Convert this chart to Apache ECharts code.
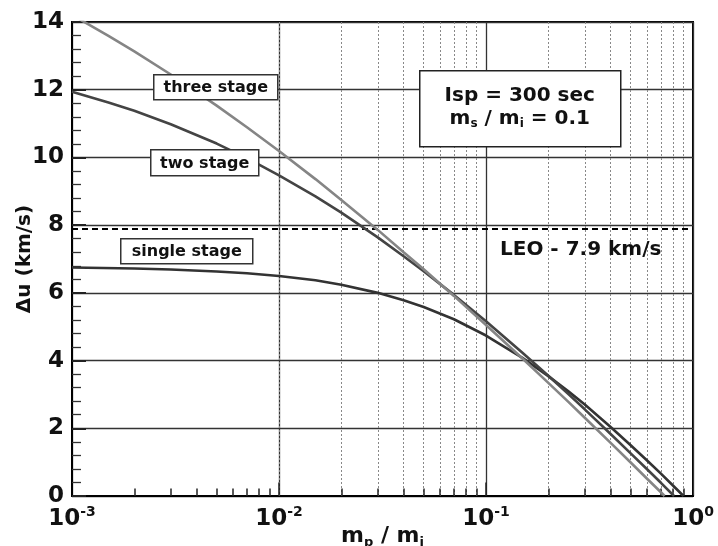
<!DOCTYPE html>
<html>
<head>
<meta charset="utf-8">
<script src="https://cdn.jsdelivr.net/npm/echarts@6/dist/echarts.min.js"></script>
<style>
  html, body { margin: 0; padding: 0; background: #fff; }
  #chart { width: 718px; height: 546px; }
</style>
</head>
<body>
<div id="chart"></div>
<script>
// payload ratio m_p / m_i
const ratioSingle = [0.001, 0.002, 0.003, 0.005, 0.007, 0.01, 0.015, 0.02, 0.03, 0.04, 0.05, 0.07, 0.1, 0.15, 0.2, 0.25, 0.3, 0.4, 0.5, 0.6, 0.7, 0.8, 0.9];
const duSingle = [6.75, 6.72, 6.69, 6.63, 6.58, 6.50, 6.37, 6.24, 6.00, 5.78, 5.58, 5.22, 4.74, 4.08, 3.54, 3.09, 2.70, 2.04, 1.50, 1.05, 0.66, 0.31, 0];

const ratioTwo = [0.001, 0.0015, 0.002, 0.003, 0.005, 0.007, 0.01, 0.015, 0.02, 0.03, 0.04, 0.05, 0.07, 0.1, 0.15, 0.2, 0.25, 0.3, 0.4, 0.5, 0.6, 0.7, 0.81];
const duTwo = [11.94, 11.62, 11.38, 10.98, 10.41, 9.98, 9.47, 8.85, 8.37, 7.64, 7.08, 6.64, 5.94, 5.16, 4.23, 3.55, 3.01, 2.56, 1.83, 1.26, 0.79, 0.39, 0];

const ratioThree = [0.001, 0.0015, 0.002, 0.003, 0.005, 0.007, 0.01, 0.015, 0.02, 0.03, 0.04, 0.05, 0.07, 0.1, 0.15, 0.2, 0.25, 0.3, 0.4, 0.5, 0.6, 0.7, 0.729];
const duThree = [14.21, 13.59, 13.13, 12.45, 11.53, 10.89, 10.19, 9.36, 8.74, 7.86, 7.20, 6.70, 5.91, 5.05, 4.06, 3.34, 2.78, 2.31, 1.57, 0.99, 0.51, 0.11, 0];

const minorX = [0.002, 0.003, 0.004, 0.005, 0.006, 0.007, 0.008, 0.009,
                0.02, 0.03, 0.04, 0.05, 0.06, 0.07, 0.08, 0.09,
                0.2, 0.3, 0.4, 0.5, 0.6, 0.7, 0.8, 0.9];
const leo = 7.9;

const font = '"DejaVu Sans", Verdana, sans-serif';
const pairs = (xs, ys) => xs.map((x, i) => [x, ys[i]]);

const chart = echarts.init(document.getElementById('chart'));

const gridLines = minorX.map(x => ({ xAxis: x }));
const minorTicks = minorX.map(x => [{ coord: [x, 0] }, { coord: [x, 0.22] }]);
const majorTicks = [0.01, 0.1].map(x => [{ coord: [x, 0] }, { coord: [x, 0.4] }]);

function boxLabel(text, x, y, w, h) {
  return {
    type: 'group', left: x, top: y,
    children: [
      { type: 'rect', z: 100, shape: { x: 0, y: 0, width: w, height: h },
        style: { fill: '#fff', stroke: '#333', lineWidth: 1.5 } },
      { type: 'text', z: 101, x: w / 2, y: h / 2 + 1,
        style: { text: text, font: 'bold 16px ' + font, fill: '#111',
                 align: 'center', verticalAlign: 'middle' } }
    ]
  };
}

chart.setOption({
  animation: false,
  grid: {
    left: 72, top: 22, right: 25, bottom: 50, containLabel: false, outerBoundsMode: 'none',
    show: true, borderColor: '#000', borderWidth: 2, backgroundColor: 'transparent'
  },
  xAxis: {
    type: 'log', min: 0.001, max: 1, logBase: 10,
    axisLine: { lineStyle: { color: '#000', width: 2 } },
    axisTick: { show: false },
    splitLine: { show: true, lineStyle: { color: '#333', width: 1.3 } },
    axisLabel: {
      margin: 9,
      formatter: v => '{b|10}{s|' + Math.round(Math.log10(v)) + '}',
      rich: {
        b: { fontFamily: font, fontWeight: 'bold', fontSize: 23, color: '#111' },
        s: { fontFamily: font, fontWeight: 'bold', fontSize: 14, color: '#111', padding: [0, 0, 14, 0] }
      }
    },
    name: '{a|m}{sub|p}{a| / m}{sub|i}',
    nameLocation: 'middle', nameGap: 28, nameMoveOverlap: false,
    nameTextStyle: {
      rich: {
        a: { fontFamily: font, fontWeight: 'bold', fontSize: 22, color: '#111' },
        sub: { fontFamily: font, fontWeight: 'bold', fontSize: 13, color: '#111', padding: [12, 0, 0, 0] }
      }
    }
  },
  yAxis: {
    type: 'value', min: 0, max: 14, interval: 2,
    axisLine: { lineStyle: { color: '#000', width: 2 } },
    axisTick: { show: true, inside: true, length: 14, lineStyle: { color: '#222', width: 2 } },
    minorTick: { show: true, splitNumber: 5, length: 9, lineStyle: { color: '#333', width: 1.3 } },
    splitLine: { show: true, lineStyle: { color: '#333', width: 1.3 } },
    axisLabel: { margin: 8, fontFamily: font, fontWeight: 'bold', fontSize: 23, color: '#111' },
    name: 'Δu (km/s)', nameLocation: 'middle', nameGap: 37, nameMoveOverlap: false,
    nameTextStyle: { fontFamily: font, fontWeight: 'bold', fontSize: 20, color: '#111' }
  },
  series: [
    {
      name: 'grid', type: 'line', data: [], silent: true,
      markLine: {
        silent: true, symbol: ['none', 'none'], label: { show: false }, animation: false,
        data: gridLines,
        lineStyle: { color: '#888', width: 1, type: [2, 2] }
      }
    },
    {
      name: 'ticks', type: 'line', data: [], silent: true,
      markLine: {
        silent: true, symbol: ['none', 'none'], label: { show: false }, animation: false,
        data: minorTicks.concat(majorTicks),
        lineStyle: { color: '#222', width: 1.5, type: 'solid' }
      }
    },
    {
      name: 'LEO', type: 'line', data: [], silent: true,
      markLine: {
        silent: true, symbol: ['none', 'none'], label: { show: false }, animation: false,
        data: [{ yAxis: leo }],
        lineStyle: { color: '#000', width: 2.2, type: [6, 4] }
      }
    },
    {
      name: 'single stage', type: 'line', data: pairs(ratioSingle, duSingle),
      showSymbol: false, lineStyle: { color: '#333', width: 2.6 }, z: 5
    },
    {
      name: 'two stage', type: 'line', data: pairs(ratioTwo, duTwo),
      showSymbol: false, lineStyle: { color: '#444', width: 2.6 }, z: 5
    },
    {
      name: 'three stage', type: 'line', data: pairs(ratioThree, duThree),
      showSymbol: false, lineStyle: { color: '#858585', width: 2.6 }, z: 6
    }
  ],
  graphic: [
    boxLabel('three stage', 153, 74, 124, 25),
    boxLabel('two stage', 150, 149, 108, 26),
    boxLabel('single stage', 120, 238, 132, 25),
    {
      type: 'group', left: 419, top: 70,
      children: [
        { type: 'rect', z: 100, shape: { x: 0, y: 0, width: 201, height: 76 },
          style: { fill: '#fff', stroke: '#222', lineWidth: 1.5 } },
        { type: 'text', z: 101, x: 100, y: 25,
          style: { text: 'Isp = 300 sec', font: 'bold 20px ' + font, fill: '#111', align: 'center', verticalAlign: 'middle' } },
        { type: 'text', z: 101, x: 100, y: 48,
          style: {
            text: '{a|m}{s|s}{a| / m}{s|i}{a| = 0.1}', align: 'center', verticalAlign: 'middle',
            rich: {
              a: { font: 'bold 20px ' + font, fill: '#111' },
              s: { font: 'bold 12px ' + font, fill: '#111', padding: [10, 0, 0, 0] }
            }
          } }
      ]
    },
    {
      type: 'text', left: 500, top: 240, z: 100,
      style: { text: 'LEO - 7.9 km/s', font: 'bold 20px ' + font, fill: '#111' }
    }
  ]
});
</script>
</body>
</html>
